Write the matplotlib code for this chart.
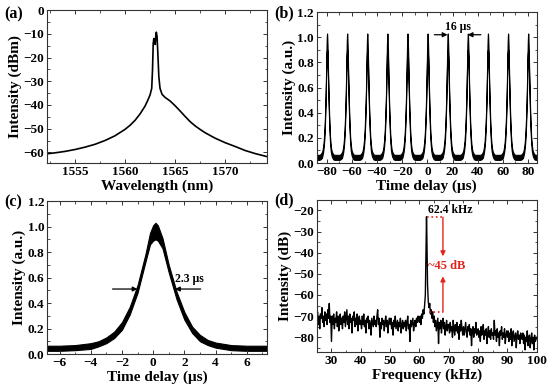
import numpy as np
import matplotlib
matplotlib.use("Agg")
import matplotlib.pyplot as plt
from matplotlib.ticker import MultipleLocator

plt.rcParams['font.family'] = ['Liberation Serif', 'DejaVu Serif']
plt.rcParams['font.weight'] = 'bold'
plt.rcParams['axes.labelweight'] = 'bold'

# (a) optical spectrum
a_wl = [1552.2, 1553, 1554, 1555, 1556, 1557, 1558, 1559, 1560, 1560.5, 1561,
        1561.5, 1562, 1562.3, 1562.5, 1562.67, 1562.75, 1562.82, 1562.88,
        1562.92, 1562.97, 1563.02, 1563.07, 1563.13, 1563.2, 1563.28, 1563.38,
        1563.5, 1563.7, 1564.0, 1564.5, 1565, 1565.5, 1566, 1566.5, 1567,
        1567.5, 1568, 1569, 1570, 1571, 1572, 1573, 1574.2]
a_db = [-60.6, -60.2, -59.6, -58.8, -57.8, -56.6, -55.0, -53.0, -50.3, -48.6, -46.5,
        -43.8, -40.5, -37.8, -35.8, -33.0, -25.0, -14.0, -12.0,
        -13.5, -12.3, -14.5, -11.0, -9.3, -11.0, -18.0, -28.0,
        -33.0, -35.5, -36.8, -38.3, -40.3, -42.5, -44.8, -47.0, -48.8,
        -50.3, -51.7, -54.0, -55.9, -57.5, -59.2, -60.5, -61.8]

# (c) single pulse, upper / lower edge of the noisy trace
c_t = [-8, -6, -5, -4, -3.5, -3, -2.5, -2, -1.5, -1, -0.5, -0.2, 0, 0.15, 0.3,
       0.6, 1, 1.5, 2, 2.5, 3, 3.5, 4, 5, 6, 8]
c_hi = [0.065, 0.065, 0.07, 0.085, 0.10, 0.13, 0.175, 0.25, 0.37, 0.54, 0.78, 0.95,
        1.01, 1.03, 1.01, 0.91, 0.70, 0.49, 0.33, 0.215, 0.15, 0.11, 0.09, 0.07,
        0.065, 0.065]
c_lo = [0.025, 0.025, 0.03, 0.04, 0.06, 0.085, 0.125, 0.19, 0.31, 0.48, 0.72, 0.86,
        0.89, 0.90, 0.89, 0.83, 0.64, 0.43, 0.27, 0.165, 0.10, 0.07, 0.05, 0.03,
        0.025, 0.025]

# (b) pulse train positions (us)
b_peaks = [-80, -64, -48, -32, -16, 0, 16, 32, 48, 64, 80]

# (d) RF spectrum, 25..100 kHz in 0.25 kHz steps
d_db = [
    -72, -68, -74, -70, -76, -69, -71, -66, -73, -70, -75, -68, -72, -69, -74, -67, -71, -64, -73, -70,
    -82, -70, -74, -69, -76, -71, -73, -68, -75, -70, -77, -72, -69, -74, -71, -76, -70, -73, -68, -75,
    -71, -67, -74, -70, -76, -69, -73, -71, -78, -70, -72, -68, -75, -71, -74, -69, -77, -72, -70, -74,
    -72, -76, -70, -74, -69, -75, -72, -78, -71, -73, -70, -76, -72, -74, -79, -71, -73, -75, -70, -74,
    -72, -75, -70, -67, -74, -71, -80, -73, -76, -71, -74, -72, -77, -73, -70, -75, -72, -78, -73, -71,
    -74, -71, -76, -73, -79, -72, -75, -70, -76, -74, -72, -77, -73, -75, -71, -78, -74, -72, -76, -73,
    -75, -72, -77, -73, -70, -76, -74, -82, -72, -75, -73, -71, -77, -74, -72, -75, -71, -73, -70, -72,
    -73, -70, -74, -69, -71, -67, -69, -65, -60, -38, -30, -55, -63, -66, -64, -69, -67, -71, -68, -73,
    -70, -75, -72, -77, -74, -71, -83, -73, -76, -72, -78, -74, -71, -76, -73, -79, -75, -72, -77, -74,
    -74, -78, -73, -77, -75, -80, -72, -76, -79, -74, -77, -73, -78, -75, -81, -74, -77, -72, -76, -79,
    -75, -79, -76, -73, -78, -80, -75, -77, -74, -79, -76, -84, -77, -75, -80, -76, -78, -73, -79, -77,
    -76, -80, -77, -82, -75, -79, -78, -74, -81, -77, -79, -76, -83, -78, -75, -80, -77, -81, -76, -79,
    -78, -81, -72, -79, -77, -82, -76, -80, -78, -84, -77, -79, -75, -81, -78, -80, -76, -83, -79, -77,
    -80, -77, -82, -78, -81, -76, -84, -79, -77, -82, -80, -78, -85, -79, -77, -81, -79, -83, -78, -80,
    -81, -78, -83, -79, -86, -80, -82, -77, -84, -80, -79, -85, -81, -78, -83, -80, -86, -79, -82, -81,
    -80]
d_peak_f = [62.4]
d_peak_db = [-23]

RED = '#e3241c'
FRAME = '#333333'


def style(ax, xmaj, xmin, ymaj, ymin):
    ax.xaxis.set_major_locator(MultipleLocator(xmaj))
    ax.xaxis.set_minor_locator(MultipleLocator(xmin))
    ax.yaxis.set_major_locator(MultipleLocator(ymaj))
    ax.yaxis.set_minor_locator(MultipleLocator(ymin))
    ax.tick_params(which='both', direction='in', top=True, right=True,
                   labelsize=9.5, color=FRAME, pad=2)
    ax.tick_params(which='major', length=3, width=0.7)
    ax.tick_params(which='minor', length=1.8, width=0.6)
    for s in ax.spines.values():
        s.set_color(FRAME)
        s.set_linewidth(0.8)


fig = plt.figure(figsize=(5.5, 3.9), dpi=100)
ax_a = fig.add_axes([0.0855, 0.582, 0.40, 0.392])
ax_b = fig.add_axes([0.576, 0.582, 0.40, 0.387])
ax_c = fig.add_axes([0.0855, 0.0923, 0.40, 0.392])
ax_d = fig.add_axes([0.576, 0.0974, 0.40, 0.39])

# (a)
ax_a.plot(a_wl, a_db, color='black', lw=1.2)
ax_a.set_xlim(1552.2, 1574.2)
ax_a.set_ylim(-64.5, 0)
style(ax_a, 5, 2.5, 10, 5)
ax_a.set_xlabel('Wavelength (nm)', fontsize=11, labelpad=1)
ax_a.set_ylabel('Intensity (dBm)', fontsize=11, labelpad=1)

# (b)
ct = np.array(c_t)
bx = np.concatenate([ct + p for p in b_peaks])
bhi = np.tile(c_hi, len(b_peaks))
blo = np.tile(c_lo, len(b_peaks))
ax_b.fill_between(bx, blo, bhi, color='black', lw=0.8, edgecolor='black')
ax_b.set_xlim(-88, 87)
ax_b.set_ylim(0, 1.2)
style(ax_b, 20, 10, 0.2, 0.1)
ax_b.set_xlabel('Time delay (μs)', fontsize=11, labelpad=1)
ax_b.set_ylabel('Intensity (a.u.)', fontsize=11, labelpad=1)
arr = dict(arrowstyle='-|>', color='black', lw=0.9, mutation_scale=7,
           shrinkA=0, shrinkB=0)
ax_b.annotate('', xy=(16, 1.02), xytext=(5.5, 1.02), arrowprops=arr)
ax_b.annotate('', xy=(32, 1.02), xytext=(42.5, 1.02), arrowprops=arr)
ax_b.text(24.5, 1.085, '16 μs', ha='center', va='center', fontsize=8.5)

# (c)
ax_c.fill_between(c_t, c_lo, c_hi, color='black', lw=0.8, edgecolor='black')
ax_c.set_xlim(-6.8, 7.3)
ax_c.set_ylim(0, 1.2)
style(ax_c, 2, 1, 0.2, 0.1)
ax_c.set_xlabel('Time delay (μs)', fontsize=11, labelpad=1)
ax_c.set_ylabel('Intensity (a.u.)', fontsize=11, labelpad=1)
ax_c.annotate('', xy=(-1.0, 0.51), xytext=(-2.6, 0.51), arrowprops=arr)
ax_c.annotate('', xy=(1.4, 0.51), xytext=(3.05, 0.51), arrowprops=arr)
ax_c.text(2.3, 0.585, '2.3 μs', ha='center', va='center', fontsize=8.5)

# (d)
d_f = np.linspace(25, 100, len(d_db))
f_all = np.concatenate([d_f, d_peak_f])
v_all = np.concatenate([d_db, d_peak_db])
order = np.argsort(f_all)
ax_d.plot(f_all[order], v_all[order], color='black', lw=1.0)
ax_d.set_xlim(25, 100)
ax_d.set_ylim(-87, -15)
style(ax_d, 10, 5, 10, 5)
ax_d.set_xlabel('Frequency (kHz)', fontsize=11, labelpad=1)
ax_d.set_ylabel('Intensity (dB)', fontsize=11, labelpad=1)
ax_d.text(62.8, -20, '62.4 kHz', ha='left', va='center', fontsize=8.5)
ax_d.plot([62.6, 68.0], [-23.2, -23.2], ':', color=RED, lw=1.2)
ax_d.plot([63.4, 68.0], [-68.1, -68.1], ':', color=RED, lw=1.2)
rarr = dict(arrowstyle='-|>', color=RED, lw=1.0, mutation_scale=7,
            shrinkA=0, shrinkB=0)
ax_d.annotate('', xy=(68.0, -41.7), xytext=(68.0, -23.2), arrowprops=rarr)
ax_d.annotate('', xy=(68.0, -51.2), xytext=(68.0, -68.1), arrowprops=rarr)
ax_d.text(69.4, -46.3, '~45 dB', ha='center', va='center', fontsize=9,
          color=RED)

# panel letters
for x, y, s in [(0.008, 0.962, '(a)'), (0.499, 0.965, '(b)'),
                (0.008, 0.482, '(c)'), (0.499, 0.487, '(d)')]:
    fig.text(x, y, s, fontsize=11.5, ha='left', va='center')

fig.savefig('out.png', dpi=100)
